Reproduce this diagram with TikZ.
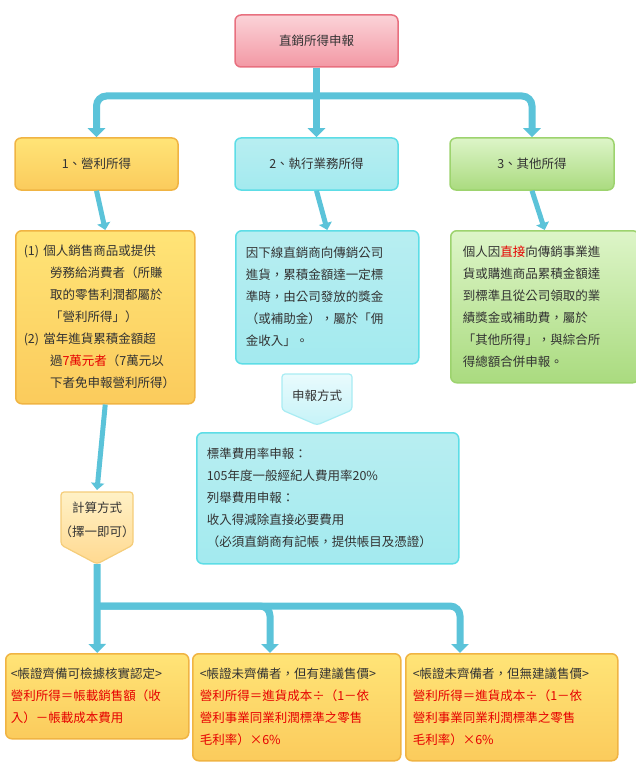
\documentclass[tikz,border=0pt]{standalone}
\usepackage{fontspec}
\newfontfamily\cjk{Noto Sans CJK TC}
\usetikzlibrary{arrows.meta}
\definecolor{txt}{HTML}{333333}
\definecolor{rd}{HTML}{E60000}
\definecolor{arr}{HTML}{5BC3D9}
\definecolor{yb}{HTML}{F0B443}
\definecolor{yt}{HTML}{FFE477}
\definecolor{ybt}{HTML}{FBCB5C}
\definecolor{cb}{HTML}{5DDDE6}
\definecolor{ct}{HTML}{B8EEF1}
\definecolor{cbt}{HTML}{A3EAEF}
\definecolor{gb}{HTML}{9DD36E}
\definecolor{gt}{HTML}{DDF5C8}
\definecolor{gbt}{HTML}{AADB7F}
\definecolor{pb}{HTML}{E8707F}
\definecolor{pt}{HTML}{FBD3D8}
\definecolor{pbt}{HTML}{F398A4}
\definecolor{lb}{HTML}{A9ECF3}
\definecolor{lt}{HTML}{E9FBFD}
\definecolor{lbt}{HTML}{C6F3F8}
\definecolor{ob}{HTML}{F5CD7A}
\definecolor{ot}{HTML}{FFF1C6}
\definecolor{obt}{HTML}{FFD990}
\newcommand{\R}[1]{\textcolor{rd}{#1}}
\begin{document}
\begin{tikzpicture}[x=1pt,y=-1pt,
  font=\cjk\fontsize{12.5}{22}\selectfont, text=txt,
  base/.style={rounded corners=6pt, line width=1.5pt, inner sep=0pt, text width=#1, align=left},
  ybox/.style={base=#1, draw=yb, top color=yt, bottom color=ybt},
  cbox/.style={base=#1, draw=cb, top color=ct, bottom color=cbt},
  gbox/.style={base=#1, draw=gb, top color=gt, bottom color=gbt},
  pbox/.style={base=#1, draw=pb, top color=pt, bottom color=pbt},
  flow/.style={draw=arr, line width=7pt, rounded corners=10pt, -{Triangle[width=17pt,length=9pt]}},
  small/.style={draw=arr, line width=5pt, -{Triangle[width=13pt,length=7pt]}},
  co/.style={line width=1.2pt, rounded corners=3pt}
]
\useasboundingbox (0,0) rectangle (635,770);
% top
\node[pbox=163pt, minimum height=52pt, align=center] (top) at (316.5,41) {直銷所得申報};
% level 1
\node[ybox=163pt, minimum height=52pt, align=center] (b1) at (96.5,164) {1、營利所得};
\node[cbox=163pt, minimum height=52pt, align=center] (b2) at (316.5,164) {2、執行業務所得};
\node[gbox=164pt, minimum height=52pt, align=center] (b3) at (532,164) {3、其他所得};
\coordinate (j0) at (316.5,96);
\draw[flow] (top.south) -- (b2.north);
\draw[flow] (j0) -| (b1.north);
\draw[flow] (j0) -| (b3.north);
% details
\node[ybox=163pt, minimum height=173pt, anchor=north west, inner xsep=8pt] (d1) at (15,230) {%
(1) 個人銷售商品或提供\\
\hspace*{2.1em}勞務給消費者（所賺\\
\hspace*{2.1em}取的零售利潤都屬於\\
\hspace*{2.1em}「營利所得」）\\
(2) 當年進貨累積金額超\\
\hspace*{2.1em}過\R{7萬元者}（7萬元以\\
\hspace*{2.1em}下者免申報營利所得）};
\node[cbox=163pt, minimum height=133pt, anchor=north west, inner xsep=10pt] (d2) at (235,230) {%
因下線直銷商向傳銷公司\\進貨，累積金額達一定標\\準時，由公司發放的獎金\\（或補助金），屬於「佣\\金收入」。};
\node[gbox=164pt, minimum height=152pt, anchor=north west, inner xsep=12pt] (d3) at (450,230) {%
個人因\R{直接}向傳銷事業進\\貨或購進商品累積金額達\\到標準且從公司領取的業\\績獎金或補助費，屬於\\「其他所得」，與綜合所\\得總額合併申報。};
\draw[small] (b1.south) -- (d1.north);
\draw[small] (b2.south) -- (d2.north);
\draw[small] (b3.south) -- (d3.north);
% callout 2
\path[co, draw=lb, top color=lt, bottom color=lbt] (282,374) -- (352,374) -- (352,410) -- (317,425) -- (282,410) -- cycle;
\node (c2) at (317,396) {申報方式};
\node[cbox=242pt, minimum height=131pt, anchor=north west, inner xsep=10pt] (d4) at (196,432) {%
標準費用率申報：\\105年度一般經紀人費用率20\%\\列舉費用申報：\\收入得減除直接必要費用\\（必須直銷商有記帳，提供帳目及憑證）};
% callout 1
\coordinate (c1top) at (97,490);
\draw[small] (d1.south) -- (c1top);
\path[co, draw=ob, top color=ot, bottom color=obt] (61,492) -- (133,492) -- (133,545) -- (97,564) -- (61,545) -- cycle;
\node[align=center, font=\cjk\fontsize{12.5}{24}\selectfont] (c1) at (97,520) {計算方式\\（擇一即可）};
% bottom
\node[ybox=173pt, minimum height=85pt, anchor=north west, inner xsep=5pt] (e1) at (5,653) {%
<帳證齊備可檢據核實認定>\\\R{營利所得＝帳載銷售額（收}\\\R{入）－帳載成本費用}};
\node[ybox=194pt, minimum height=107pt, anchor=north west, inner xsep=7pt] (e2) at (192,653) {%
<帳證未齊備者，但有建議售價>\\\R{營利所得＝進貨成本÷（1－依}\\\R{營利事業同業利潤標準之零售}\\\R{毛利率）×6\%}};
\node[ybox=198pt, minimum height=107pt, anchor=north west, inner xsep=7pt] (e3) at (405,653) {%
<帳證未齊備者，但無建議售價>\\\R{營利所得＝進貨成本÷（1－依}\\\R{營利事業同業利潤標準之零售}\\\R{毛利率）×6\%}};
\coordinate (j1) at (97,564);
\coordinate (j2) at (97,606);
\draw[flow] (j1) -- (e1.north);
\draw[flow] (j2) -| (e2.north -| 270,0);
\draw[flow] (j2) -| (e3.north -| 460,0);
\end{tikzpicture}
\end{document}
